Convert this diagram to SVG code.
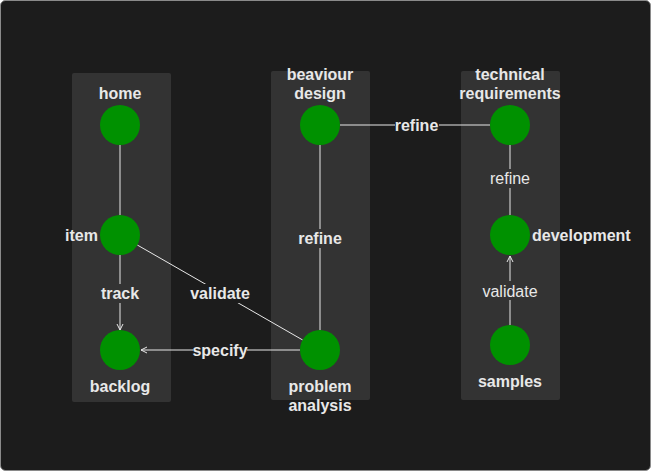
<svg xmlns="http://www.w3.org/2000/svg" width="651" height="471" viewBox="0 0 651 471">
<defs>
<style>
.bg{fill:#1c1c1c;stroke:#8a8a8a;stroke-width:1}
.col{fill:#333333}
.node{fill:#009100}
.lbl{font-family:"Liberation Sans",Arial,sans-serif;font-size:16px;font-weight:bold;fill:#e8e8e8}
.elbl{font-family:"Liberation Sans",Arial,sans-serif;font-size:16px;fill:#e8e8e8;text-anchor:middle}
.b{font-weight:bold}
.edge{stroke:#e8e8e8;stroke-width:1;fill:none}
.mid{text-anchor:middle}
</style>
<marker id="arr" viewBox="0 0 8 8" refX="7" refY="4" markerWidth="8" markerHeight="8" markerUnits="userSpaceOnUse" orient="auto">
<path d="M1,1 L7,4 L1,7" fill="none" stroke="#e8e8e8" stroke-width="1"/>
</marker>
</defs>
<rect class="bg" x="0.5" y="0.5" width="650" height="470" rx="5"/>
<g id="columns">
<rect class="col" x="72" y="73" width="99" height="329" rx="2"/>
<rect class="col" x="271" y="71" width="99" height="329" rx="2"/>
<rect class="col" x="461" y="71" width="99" height="329" rx="2"/>
</g>
<g id="connectors">
<line class="edge" x1="120" y1="145" x2="120" y2="215"/>
<line class="edge" x1="120" y1="255" x2="120" y2="330" marker-end="url(#arr)"/>
<line class="edge" x1="137.3" y1="245" x2="302.7" y2="340"/>
<line class="edge" x1="300" y1="350" x2="141" y2="350" marker-end="url(#arr)"/>
<line class="edge" x1="320" y1="145" x2="320" y2="330"/>
<line class="edge" x1="340" y1="125" x2="490" y2="125"/>
<line class="edge" x1="510" y1="145" x2="510" y2="215"/>
<line class="edge" x1="510" y1="325" x2="510" y2="256" marker-end="url(#arr)"/>
<rect x="395" y="117" width="44" height="18" fill="#1c1c1c"/>
<text class="elbl b" x="416.5" y="131">refine</text>
<rect x="298" y="229" width="44" height="19" fill="#333333"/>
<text class="elbl b" x="320" y="244">refine</text>
<rect x="100" y="284" width="40" height="19" fill="#333333"/>
<text class="elbl b" x="120" y="299">track</text>
<rect x="190" y="284" width="60" height="19" fill="#1c1c1c"/>
<text class="elbl b" x="220" y="299">validate</text>
<rect x="193" y="341" width="54" height="18" fill="#1c1c1c"/>
<text class="elbl b" x="220" y="356">specify</text>
<rect x="489" y="169" width="42" height="19" fill="#333333"/>
<text class="elbl" x="510" y="184">refine</text>
<rect x="482" y="281" width="56" height="19" fill="#333333"/>
<text class="elbl" x="510" y="297">validate</text>
</g>
<g id="home"><circle class="node" cx="120" cy="125" r="20"/><text class="lbl mid" x="120" y="99">home</text></g>
<g id="item"><circle class="node" cx="120" cy="235" r="20"/><text class="lbl" x="98" y="241" text-anchor="end">item</text></g>
<g id="backlog"><circle class="node" cx="120" cy="350" r="20"/><text class="lbl mid" x="120" y="392">backlog</text></g>
<g id="beaviour-design"><circle class="node" cx="320" cy="125" r="20"/><text class="lbl mid" x="320" y="80">beaviour</text><text class="lbl mid" x="320" y="99">design</text></g>
<g id="problem-analysis"><circle class="node" cx="320" cy="350" r="20"/><text class="lbl mid" x="320" y="392">problem</text><text class="lbl mid" x="320" y="411">analysis</text></g>
<g id="technical-requirements"><circle class="node" cx="510" cy="125" r="20"/><text class="lbl mid" x="510" y="80">technical</text><text class="lbl mid" x="510" y="99">requirements</text></g>
<g id="development"><circle class="node" cx="510" cy="235" r="20"/><text class="lbl" x="532" y="241">development</text></g>
<g id="samples"><circle class="node" cx="510" cy="345" r="20"/><text class="lbl mid" x="510" y="387">samples</text></g>
</svg>
